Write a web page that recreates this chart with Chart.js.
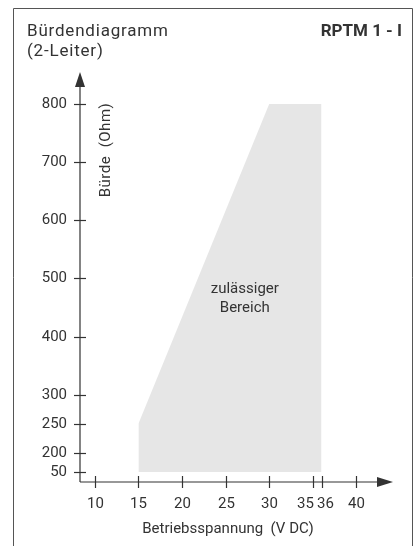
<!DOCTYPE html>
<html>
<head>
<meta charset="utf-8">
<script src="https://cdn.jsdelivr.net/npm/chart.js@4"></script>
<style>
  body { margin: 0; background: #fff; }
</style>
</head>
<body>
<canvas id="buerdeChart" width="414" height="546"></canvas>
<script>
// Zulässiger Bereich: obere Grenze (Spannung V DC / Bürde Ohm)
const voltage = [15, 30, 36];
const loadOhm = [250, 800, 800];
const minLoad = 50;

const xTicks = [10, 15, 20, 25, 30, 35, 36, 40];
const yTicks = [50, 200, 250, 300, 400, 500, 600, 700, 800];

// y axis is broken below 200 Ohm (50..200 squeezed)
function axisY(ohm) {
    return ohm >= 200 ? ohm : 200 - (200 - ohm) * 0.218;
}

const font = '"Roboto", "Liberation Sans", sans-serif';
const ink = '#333';

const axesPlugin = {
    id: 'axesPlugin',
    afterDraw(chart) {
        const c = chart.ctx;
        const xs = chart.scales.x, ys = chart.scales.y;
        const area = chart.chartArea;
        const x0 = area.left, y0 = area.bottom;

        c.save();
        // frame
        c.strokeStyle = '#555';
        c.lineWidth = 1;
        c.beginPath();
        c.moveTo(13.5, 546);
        c.lineTo(13.5, 8.5);
        c.lineTo(412.5, 8.5);
        c.lineTo(412.5, 546);
        c.stroke();

        // axes
        c.strokeStyle = ink;
        c.fillStyle = ink;
        c.lineWidth = 1.2;
        c.beginPath();
        c.moveTo(x0, y0);
        c.lineTo(x0, area.top + 10);
        c.moveTo(x0, y0);
        c.lineTo(area.right - 10, y0);
        c.stroke();
        // arrow heads
        c.beginPath();
        c.moveTo(x0, area.top);
        c.lineTo(x0 - 5, area.top + 15);
        c.lineTo(x0 + 5, area.top + 15);
        c.closePath();
        c.fill();
        c.beginPath();
        c.moveTo(area.right, y0);
        c.lineTo(area.right - 16, y0 - 5);
        c.lineTo(area.right - 16, y0 + 5);
        c.closePath();
        c.fill();

        // ticks
        c.font = '15px ' + font;
        c.textAlign = 'right';
        c.textBaseline = 'middle';
        yTicks.forEach(v => {
            const py = Math.round(ys.getPixelForValue(axisY(v))) + 0.5;
            c.beginPath();
            c.moveTo(x0 - 6, py);
            c.lineTo(x0 + 6, py);
            c.stroke();
            c.fillText(String(v), x0 - 13, py);
        });
        c.textAlign = 'center';
        c.textBaseline = 'alphabetic';
        const xPix = xTicks.map(v => xs.getPixelForValue(v));
        xTicks.forEach((v, i) => {
            const px = Math.round(xPix[i]) + 0.5;
            c.beginPath();
            c.moveTo(px, y0 - 6);
            c.lineTo(px, y0 + 6);
            c.stroke();
            // push crowded labels apart
            let lx = px;
            if (i < xTicks.length - 1 && xPix[i + 1] - xPix[i] < 20) lx -= 8;
            if (i > 0 && xPix[i] - xPix[i - 1] < 20) lx += 3;
            c.fillText(String(v), lx, y0 + 26);
        });

        // axis titles
        c.fillText('Betriebsspannung  (V DC)', 228, 533);
        c.save();
        c.translate(110, 150);
        c.rotate(-Math.PI / 2);
        c.letterSpacing = '0.5px';
        c.fillText('Bürde  (Ohm)', 0, 0);
        c.restore();

        // area label
        c.fillText('zulässiger', xs.getPixelForValue(27.2), 293);
        c.fillText('Bereich', xs.getPixelForValue(27.2), 312);

        // headline
        c.font = '17px ' + font;
        c.letterSpacing = '0.8px';
        c.textAlign = 'left';
        c.fillText('Bürdendiagramm', 27, 36);
        c.fillText('(2-Leiter)', 27, 56);
        c.letterSpacing = '0px';
        c.font = 'bold 17px ' + font;
        c.textAlign = 'right';
        c.fillText('RPTM 1 - I', 402, 36);
        c.restore();
    }
};

new Chart(document.getElementById('buerdeChart').getContext('2d'), {
    type: 'line',
    data: {
        datasets: [{
            data: voltage.map((v, i) => ({ x: v, y: axisY(loadOhm[i]) })),
            borderWidth: 0,
            pointRadius: 0,
            tension: 0,
            backgroundColor: '#e6e6e6',
            fill: { value: axisY(minLoad) }
        }]
    },
    options: {
        responsive: false,
        animation: false,
        layout: {
            padding: { left: 80, right: 21, top: 72, bottom: 64 }
        },
        plugins: {
            legend: { display: false },
            tooltip: { enabled: false }
        },
        scales: {
            x: { type: 'linear', min: 8.3, max: 44.2, display: false },
            y: { type: 'linear', min: 150, max: 855, display: false }
        }
    },
    plugins: [axesPlugin]
});
</script>
</body>
</html>
